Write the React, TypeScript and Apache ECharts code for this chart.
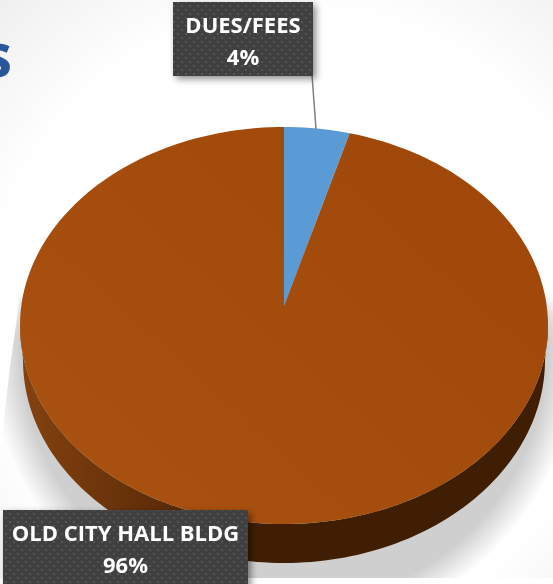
import React, { useEffect, useRef } from "react";
import * as echarts from "echarts";

const sliceNames = ["DUES/FEES", "OLD CITY HALL BLDG"];
const sliceValues = [4, 96];
const sliceColors = ["#5b9bd5", "#a34b0c"];
const titleFragment = "s";

const W = 553;
const H = 584;
const FONT = '"Open Sans", sans-serif';

// Tilted disc geometry: the hub sits above the centre of the rim ellipse because of perspective.
const HUB = { x: 284, y: 306 };
const RIM = { cx: 284, cy: 325.5, rx: 264, ry: 198.5 };
const BASE = { cx: 284, cy: 360, rx: 261, ry: 203 };

const rimPoint = (e: typeof RIM, deg: number): number[] => {
  const a = (deg * Math.PI) / 180;
  return [e.cx + e.rx * Math.sin(a), e.cy - e.ry * Math.cos(a)];
};

const arcPoints = (e: typeof RIM, from: number, to: number): number[][] => {
  const steps = Math.max(2, Math.ceil((to - from) / 1.5));
  const pts: number[][] = [];
  for (let i = 0; i <= steps; i++) pts.push(rimPoint(e, from + ((to - from) * i) / steps));
  return pts;
};

// Cast shadow: stacked translucent outlines give the soft falloff; each one is
// squashed above its widest line so that part stays behind the disc.
const SHADOW_LAYERS = 16;
const shadowLayers = () => {
  const layers: any[] = [];
  for (let k = 0; k < SHADOW_LAYERS; k++) {
    const t = k / (SHADOW_LAYERS - 1);
    const rx = 295 - 30 * t;
    const ryLow = 292 - 29 * t;
    const points: number[][] = [];
    for (let d = 0; d < 360; d += 2) {
      const a = (d * Math.PI) / 180;
      const dy = Math.cos(a);
      points.push([284 + rx * Math.sin(a), 345 - dy * (dy > 0 ? 115 : ryLow)]);
    }
    layers.push({
      type: "polygon",
      silent: true,
      z: 1,
      shape: { points },
      style: { fill: "rgba(0,0,0,0.0135)" },
    });
  }
  return layers;
};

const dotTile = (): HTMLCanvasElement => {
  const c = document.createElement("canvas");
  c.width = 8;
  c.height = 8;
  const g = c.getContext("2d")!;
  g.fillStyle = "#404040";
  g.fillRect(0, 0, 8, 8);
  g.fillStyle = "#545454";
  g.fillRect(1, 1, 2, 2);
  g.fillRect(5, 5, 2, 2);
  return c;
};

const labelBox = (
  x: number,
  y: number,
  w: number,
  h: number,
  name: string,
  pct: number,
  line: number,
  pattern: any
) => ({
  type: "group",
  children: [
    {
      type: "rect",
      shape: { x, y, width: w, height: h },
      style: {
        fill: pattern,
        shadowBlur: 7,
        shadowOffsetX: 3,
        shadowOffsetY: 3,
        shadowColor: "rgba(0,0,0,0.45)",
      },
    },
    {
      type: "text",
      x: x + w / 2,
      y: y + 22,
      style: {
        text: name,
        fill: "#ffffff",
        font: `700 22px ${FONT}`,
        align: "center",
        verticalAlign: "middle",
      },
    },
    {
      type: "text",
      x: x + w / 2,
      y: y + 22 + line,
      style: {
        text: `${pct}%`,
        fill: "#ffffff",
        font: `700 22px ${FONT}`,
        align: "center",
        verticalAlign: "middle",
      },
    },
  ],
});

export default function App() {
  const ref = useRef<HTMLDivElement>(null);

  useEffect(() => {
    const chart = echarts.init(ref.current!, undefined, { renderer: "svg" });
    const total = sliceValues.reduce((a, b) => a + b, 0);
    const pattern = { image: dotTile(), repeat: "repeat" };

    const wallFill = new echarts.graphic.LinearGradient(
      20,
      0,
      300,
      0,
      [
        { offset: 0, color: "#84420f" },
        { offset: 0.4, color: "#66310a" },
        { offset: 0.85, color: "#3f1e03" },
        { offset: 1, color: "#3f1e03" },
      ],
      true
    );
    const faceFill = new echarts.graphic.LinearGradient(
      100,
      520,
      450,
      130,
      [
        { offset: 0, color: "#a95110" },
        { offset: 1, color: "#9f4809" },
      ],
      true
    );

    let running = 0;
    const rows = sliceValues.map((v, i) => {
      const row = [v, running, i];
      running += v;
      return row;
    });

    chart.setOption({
      animation: false,
      graphic: [
        {
          type: "rect",
          silent: true,
          z: 0,
          shape: { x: 0, y: 0, width: W, height: H },
          style: {
            fill: new echarts.graphic.RadialGradient(
              300,
              320,
              440,
              [
                { offset: 0, color: "#ffffff" },
                { offset: 0.7, color: "#ffffff" },
                { offset: 1, color: "#efefef" },
              ],
              true
            ),
          },
        },
        {
          type: "text",
          silent: true,
          z: 1,
          x: 12,
          y: 54,
          style: {
            text: titleFragment,
            fill: "#2a5599",
            font: `700 60px ${FONT}`,
            align: "right",
            verticalAlign: "middle",
          },
        },
        ...shadowLayers(),
        {
          // The shadow stops along a slanted edge on the left...
          type: "polygon",
          silent: true,
          z: 1,
          shape: {
            points: [
              [0, 270],
              [21, 270],
              [18, 310],
              [10, 367],
              [3, 427],
              [0, 450],
            ],
          },
          style: { fill: "#ffffff" },
        },
        {
          // ...and along a straight one at the bottom.
          type: "rect",
          silent: true,
          z: 1,
          shape: { x: 0, y: 578, width: W, height: 6 },
          style: { fill: "#ffffff" },
        },
      ],
      series: [
        {
          type: "custom",
          coordinateSystem: "none",
          silent: true,
          z: 2,
          data: rows,
          encode: { value: 0 },
          renderItem: (_: any, api: any) => {
            const value = api.value(0);
            const from = (api.value(1) / total) * 360;
            const to = from + (value / total) * 360;
            const children: any[] = [];
            // The side wall only shows along the near half of the rim.
            const wallFrom = Math.max(from, 90);
            const wallTo = Math.min(to, 270);
            if (wallTo > wallFrom) {
              children.push({
                type: "polygon",
                shape: {
                  points: [
                    ...arcPoints(RIM, wallFrom, wallTo),
                    ...arcPoints(BASE, wallFrom, wallTo).reverse(),
                  ],
                },
                style: { fill: wallFill },
              });
            }
            return { type: "group", children };
          },
        },
        {
          type: "custom",
          coordinateSystem: "none",
          silent: true,
          z: 3,
          data: rows,
          encode: { value: 0 },
          renderItem: (_: any, api: any) => {
            const value = api.value(0);
            const from = (api.value(1) / total) * 360;
            const to = from + (value / total) * 360;
            const i = api.value(2);
            return {
              type: "polygon",
              shape: { points: [[HUB.x, HUB.y], ...arcPoints(RIM, from, to)] },
              style: { fill: i === 1 ? faceFill : sliceColors[i] },
            };
          },
        },
        {
          type: "custom",
          coordinateSystem: "none",
          silent: true,
          z: 4,
          data: rows,
          encode: { value: 0 },
          renderItem: (_: any, api: any) => {
            const value = api.value(0);
            const i = api.value(2);
            const pct = Math.round((value / total) * 100);
            if (i === 0) {
              return {
                type: "group",
                children: [
                  {
                    type: "line",
                    shape: { x1: 312, y1: 75, x2: 316, y2: 129 },
                    style: { stroke: "#7f7f7f", lineWidth: 1.5 },
                  },
                  labelBox(173, 2, 140, 74, sliceNames[i], pct, 32, pattern),
                ],
              };
            }
            return labelBox(3, 510, 245, 80, sliceNames[i], pct, 32, pattern);
          },
        },
      ],
    });
    return () => chart.dispose();
  }, []);

  return (
    <div
      ref={ref}
      style={{ position: "fixed", left: 0, top: 0, width: W, height: H }}
    />
  );
}
